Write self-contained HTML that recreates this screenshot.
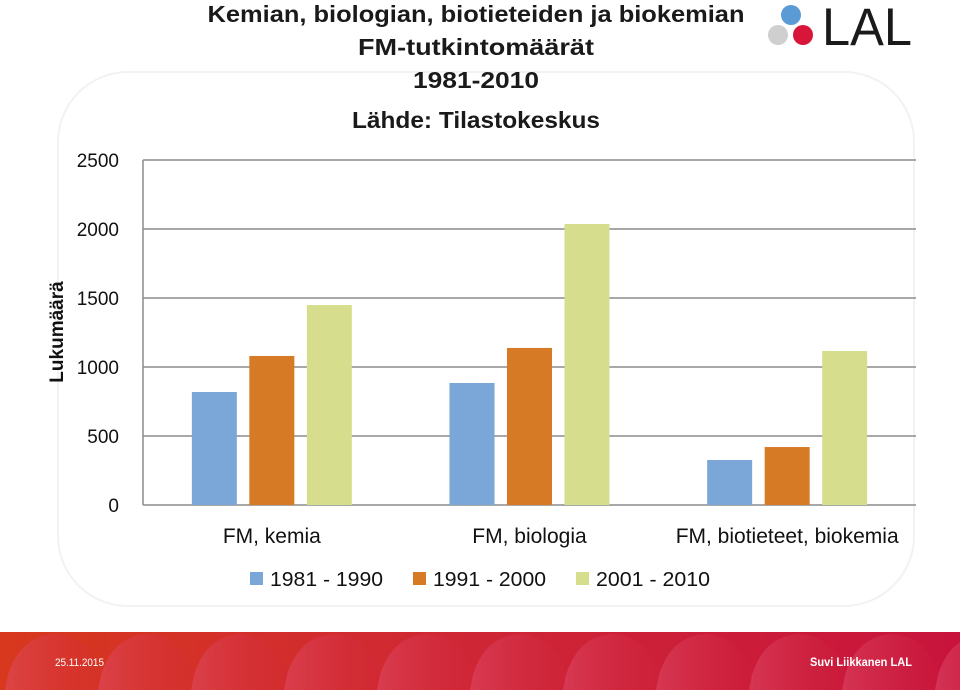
<!DOCTYPE html>
<html><head><meta charset="utf-8"><style>
html,body{margin:0;padding:0;background:#fff;width:960px;height:690px;overflow:hidden}
svg{display:block}
text{font-family:"Liberation Sans",sans-serif}
</style></head><body>
<svg id="c" width="960" height="690" viewBox="0 0 960 690">
<defs>
<linearGradient id="fg" x1="0" x2="1"><stop offset="0" stop-color="#d8381e"/><stop offset="0.5" stop-color="#cf2636"/><stop offset="1" stop-color="#c8143c"/></linearGradient>
<linearGradient id="arc" x1="0" x2="1"><stop offset="0" stop-color="#e0506e" stop-opacity="0.9"/><stop offset="1" stop-color="#d0243c" stop-opacity="0.2"/></linearGradient>
</defs>
<rect x="58" y="72" width="856" height="534" rx="70" fill="#fff" stroke="#f2f2f2" stroke-width="2"/>
<g font-weight="bold" font-size="23" fill="#1a1a1a" text-anchor="middle">
<text x="476" y="22" textLength="537" lengthAdjust="spacingAndGlyphs">Kemian, biologian, biotieteiden ja biokemian</text>
<text x="476" y="55" textLength="236" lengthAdjust="spacingAndGlyphs">FM-tutkintomäärät</text>
<text x="476" y="88" textLength="126" lengthAdjust="spacingAndGlyphs">1981-2010</text>
<text x="476" y="128" textLength="248" lengthAdjust="spacingAndGlyphs">Lähde: Tilastokeskus</text>
</g>
<g>
<circle cx="791" cy="15" r="10" fill="#5b9bd5"/>
<circle cx="778" cy="35" r="10" fill="#cfcfcf"/>
<circle cx="803" cy="35" r="10" fill="#d8163a"/>
<text x="822" y="45" font-size="53" fill="#1a1a1a" textLength="90" lengthAdjust="spacingAndGlyphs">LAL</text>
</g>
<text transform="translate(63,332) rotate(-90)" text-anchor="middle" font-size="19" font-weight="bold" fill="#111">Lukumäärä</text>
<g id="grid"></g><g id="bars"></g>
<g font-size="20" fill="#111">
<rect x="250" y="572" width="13" height="13" fill="#7aa6d8"/>
<text x="270" y="586" textLength="113" lengthAdjust="spacingAndGlyphs">1981 - 1990</text>
<rect x="413" y="572" width="13" height="13" fill="#d77a26"/>
<text x="433" y="586" textLength="113" lengthAdjust="spacingAndGlyphs">1991 - 2000</text>
<rect x="576" y="572" width="13" height="13" fill="#d6de8e"/>
<text x="596" y="586" textLength="114" lengthAdjust="spacingAndGlyphs">2001 - 2010</text>
</g>
<g>
<rect x="0" y="632" width="960" height="58" fill="url(#fg)"/>
<g id="arcs"></g>
<text x="55" y="666" font-size="11" fill="#fff" textLength="49" lengthAdjust="spacingAndGlyphs">25.11.2015</text>
<text x="810" y="666" font-size="12" font-weight="bold" fill="#fff" textLength="102" lengthAdjust="spacingAndGlyphs">Suvi Liikkanen LAL</text>
</g>
</svg>
<script>
const categories=["FM, kemia","FM, biologia","FM, biotieteet, biokemia"];
const s1981=[819,884,326];
const s1991=[1080,1138,420];
const s2001=[1449,2036,1116];
const ticks=[0,500,1000,1500,2000,2500];
const NS="http://www.w3.org/2000/svg";
const x0=143,x1=916,y0=505,yTop=160,vmax=2500;
const y=v=>y0-(y0-yTop)*v/vmax;
const gw=(x1-x0)/categories.length;
function el(t,a,p){const e=document.createElementNS(NS,t);for(const k in a)e.setAttribute(k,a[k]);p.appendChild(e);return e;}
const grid=document.getElementById('grid'),bars=document.getElementById('bars');
ticks.forEach(t=>{
 const l=el('line',{x1:x0,x2:x1,y1:y(t),y2:y(t),stroke:'#8c8c8c','stroke-width':1.5},grid);
 
 
 const tx=el('text',{x:119,y:y(t)+7,'text-anchor':'end','font-size':19,fill:'#111'},grid);
 tx.textContent=t;
 
 
});
const ax=el('line',{x1:x0,x2:x0,y1:yTop,y2:y0,stroke:'#8c8c8c','stroke-width':1.5},grid);


const series=[[s1981,'#7aa6d8','1981'],[s1991,'#d77a26','1991'],[s2001,'#d6de8e','2001']];
const bw=45,step=57.5;
categories.forEach((c,i)=>{
 const cx=x0+gw*(i+0.5);
 series.forEach((s,j)=>{
  const bx=cx+(j-1)*step-bw/2;
  const r=el('rect',{x:bx,y:y(s[0][i]),width:bw,height:y0-y(s[0][i]),fill:s[1]},bars);
  
  
 });
 const t=el('text',{x:cx,y:543,'text-anchor':'middle','font-size':21,fill:'#111'},bars);
 t.textContent=c;
 
 
});
const arcs=document.getElementById('arcs');
for(let k=0;k<11;k++){
 const ax0=k*93+5;
 el('path',{d:`M${ax0} 690 L${ax0+3} 675 Q${ax0+15} 636 ${ax0+50} 634 Q${ax0+85} 636 ${ax0+97} 675 L${ax0+100} 690Z`,fill:'url(#arc)',opacity:0.55},arcs);
}
</script>
</body></html>
